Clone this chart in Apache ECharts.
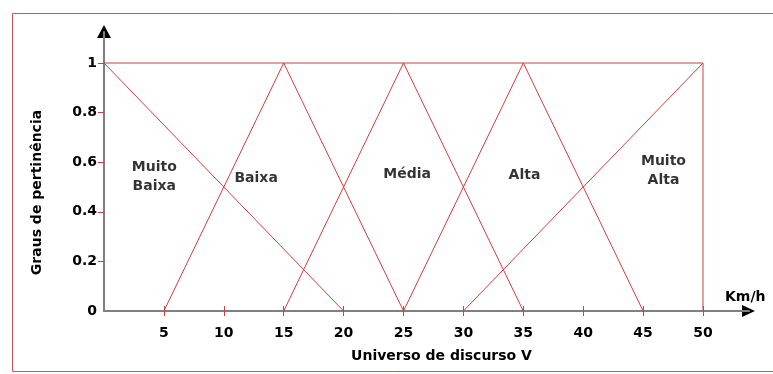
<!DOCTYPE html>
<html lang="pt">
  <head>
    <meta charset="UTF-8" />
    <title>Graus de pertinência</title>
    <style>
      html,
      body {
        margin: 0;
        background: #fff;
      }
      #main {
        width: 773px;
        height: 374px;
      }
    </style>
  </head>
  <body>
    <div id="main"></div>
    <script src="https://cdn.jsdelivr.net/npm/echarts@6/dist/echarts.min.js"></script>
    <script>
      // funções de pertinência (x em km/h, y = grau)
      const muitoBaixa = [[0, 1], [20, 0]];
      const baixa = [[5, 0], [15, 1], [25, 0]];
      const media = [[15, 0], [25, 1], [35, 0]];
      const alta = [[25, 0], [35, 1], [45, 0]];
      const muitoAlta = [[30, 0], [50, 1], [50, 0]];
      const topo = [[0, 1], [50, 1]];

      // rótulos dos conjuntos
      const nomes = ["Muito\nBaixa", "Baixa", "Média", "Alta", "Muito\nAlta"];
      const nomesPos = [[4.2, 0.54], [12.7, 0.535], [25.3, 0.552], [35.1, 0.548], [46.7, 0.565]];

      const xTicks = [5, 10, 15, 20, 25, 30, 35, 40, 45, 50];
      const yTicks = [0.2, 0.4, 0.6, 0.8, 1];
      const yLabels = [0, 0.2, 0.4, 0.6, 0.8, 1];

      const xMax = 53.84;
      const yMax = 1.125;

      const red = "#c94040";
      const font = "DejaVu Sans";
      const txt = { color: "#000", fontWeight: "bold", fontSize: 14, fontFamily: font };

      const linha = (data) => ({
        type: "line",
        data: data,
        symbol: "none",
        silent: true,
        color: red,
        itemStyle: { color: red },
        lineStyle: { color: red, width: 1 },
      });

      const option = {
        backgroundColor: "#fff",
        animation: false,
        grid: { left: 104, right: 24, top: 32, bottom: 63 },
        xAxis: [
          {
            type: "value",
            min: 0,
            max: xMax,
            splitLine: { show: false },
            axisLine: { lineStyle: { color: "#808080", width: 2 } },
            axisTick: { customValues: xTicks, length: 5, lineStyle: { color: red } },
            axisLabel: { customValues: xTicks, margin: 15, ...txt },
            name: "Universo de discurso V",
            nameLocation: "middle",
            nameGap: 38,
            nameTextStyle: { ...txt, padding: [0, 0, 0, 30] },
          },
          {
            type: "value",
            position: "bottom",
            min: 0,
            max: xMax,
            splitLine: { show: false },
            axisLine: { show: false },
            axisTick: { customValues: xTicks, inside: true, length: 5, lineStyle: { color: red } },
            axisLabel: { show: false },
          },
        ],
        yAxis: {
          type: "value",
          min: 0,
          max: yMax,
          splitLine: { show: false },
          axisLine: { show: true, lineStyle: { color: "#808080", width: 2 } },
          axisTick: { show: true, customValues: yTicks, length: 6, lineStyle: { color: red } },
          axisLabel: { customValues: yLabels, margin: 7, ...txt },
          name: "Graus de pertinência",
          nameLocation: "middle",
          nameGap: 60,
          nameTextStyle: { ...txt, padding: [0, 0, 0, -42] },
        },
        series: [
          linha(topo),
          linha(muitoBaixa),
          linha(baixa),
          linha(media),
          linha(alta),
          linha(muitoAlta),
          {
            type: "scatter",
            symbolSize: 0,
            silent: true,
            data: nomes.map((n, i) => ({ value: nomesPos[i], name: n })),
            label: {
              show: true,
              position: "inside",
              formatter: (p) => p.name,
              align: "center",
              verticalAlign: "middle",
              lineHeight: 19,
              ...txt,
            },
          },
        ],
      };

      const chart = echarts.init(document.getElementById("main"));
      chart.setOption(option);

      // setas pretas nas pontas dos eixos, moldura e unidade
      const o = chart.convertToPixel({ gridIndex: 0 }, [0, 0]);
      const xEnd = chart.convertToPixel({ gridIndex: 0 }, [xMax, 0]);
      const yEnd = chart.convertToPixel({ gridIndex: 0 }, [0, yMax]);
      chart.setOption({
        graphic: [
          {
            type: "rect",
            shape: { x: 12.5, y: 13.5, width: 800, height: 358 },
            style: { fill: null, stroke: "#cc5555", lineWidth: 1 },
            silent: true,
          },
          {
            type: "polygon",
            shape: { points: [[o[0] - 7, yEnd[1] + 6], [o[0] + 7, yEnd[1] + 6], [o[0], yEnd[1] - 7]] },
            style: { fill: "#000" },
          },
          {
            type: "polygon",
            shape: { points: [[xEnd[0] - 7, o[1] - 6], [xEnd[0] - 7, o[1] + 6], [xEnd[0] + 6, o[1]]] },
            style: { fill: "#000" },
          },
          {
            type: "text",
            left: 725,
            top: 290,
            style: { text: "Km/h", fill: "#000", font: "bold 14px " + font },
          },
        ],
      });
    </script>
  </body>
</html>
